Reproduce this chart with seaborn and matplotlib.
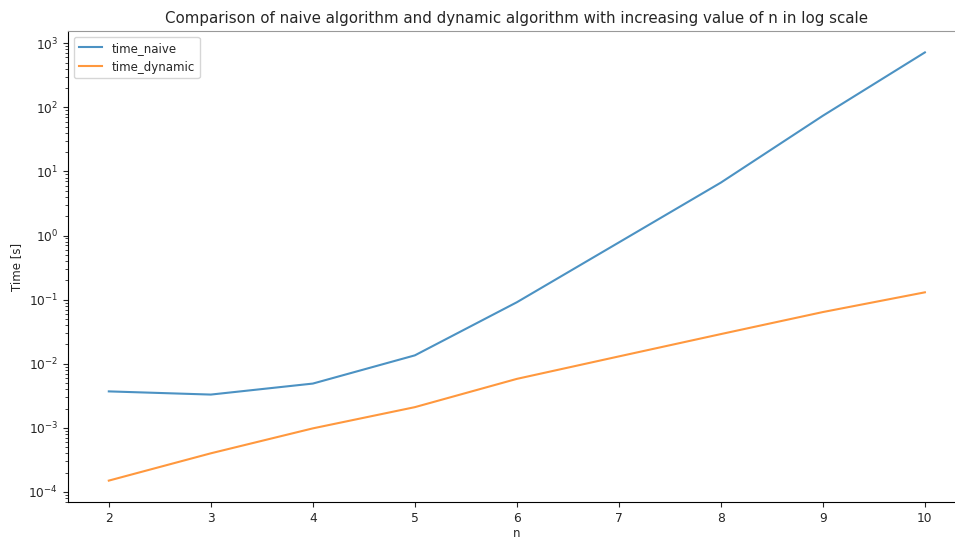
import matplotlib
matplotlib.use("Agg")
import matplotlib.pyplot as plt
import seaborn as sns
import pandas as pd

n_values = [2, 3, 4, 5, 6, 7, 8, 9, 10]
time_naive = [0.0037, 0.0033, 0.0049, 0.0135, 0.091, 0.78, 6.7, 74, 720]
time_dynamic = [0.00015, 0.00040, 0.00098, 0.0021, 0.0058, 0.013, 0.029, 0.064, 0.13]

df = pd.DataFrame({"n": n_values, "time_naive": time_naive, "time_dynamic": time_dynamic})
long = df.melt(id_vars="n", var_name="series", value_name="time")

plt.rcParams["font.family"] = ["DejaVu Sans"]
plt.rcParams["text.color"] = "#262626"
plt.rcParams["axes.labelcolor"] = "#262626"
plt.rcParams["xtick.color"] = "#262626"
plt.rcParams["ytick.color"] = "#262626"
fig = plt.figure(figsize=(9.55, 5.39), dpi=100)
ax = fig.add_axes([0.0712, 0.0686, 0.94, 0.8739])

sns.lineplot(data=long, x="n", y="time", hue="series",
             palette=["#1f77b4", "#ff7f0e"], alpha=0.8, linewidth=1.5, ax=ax)
ax.set_yscale("log")
ax.set_title("Comparison of naive algorithm and dynamic algorithm with increasing value of n in log scale",
             fontsize=10.8, color="#262626")
ax.set_xlabel("n", fontsize=8.5, labelpad=1.5)
ax.set_ylabel("Time [s]", fontsize=8.5)
ax.tick_params(labelsize=8.8)
leg = ax.legend(loc="upper left", fontsize=8.5)
leg.set_title(None)
ax.spines["top"].set_color("#999999")

fig.savefig("out.png", dpi=100)
